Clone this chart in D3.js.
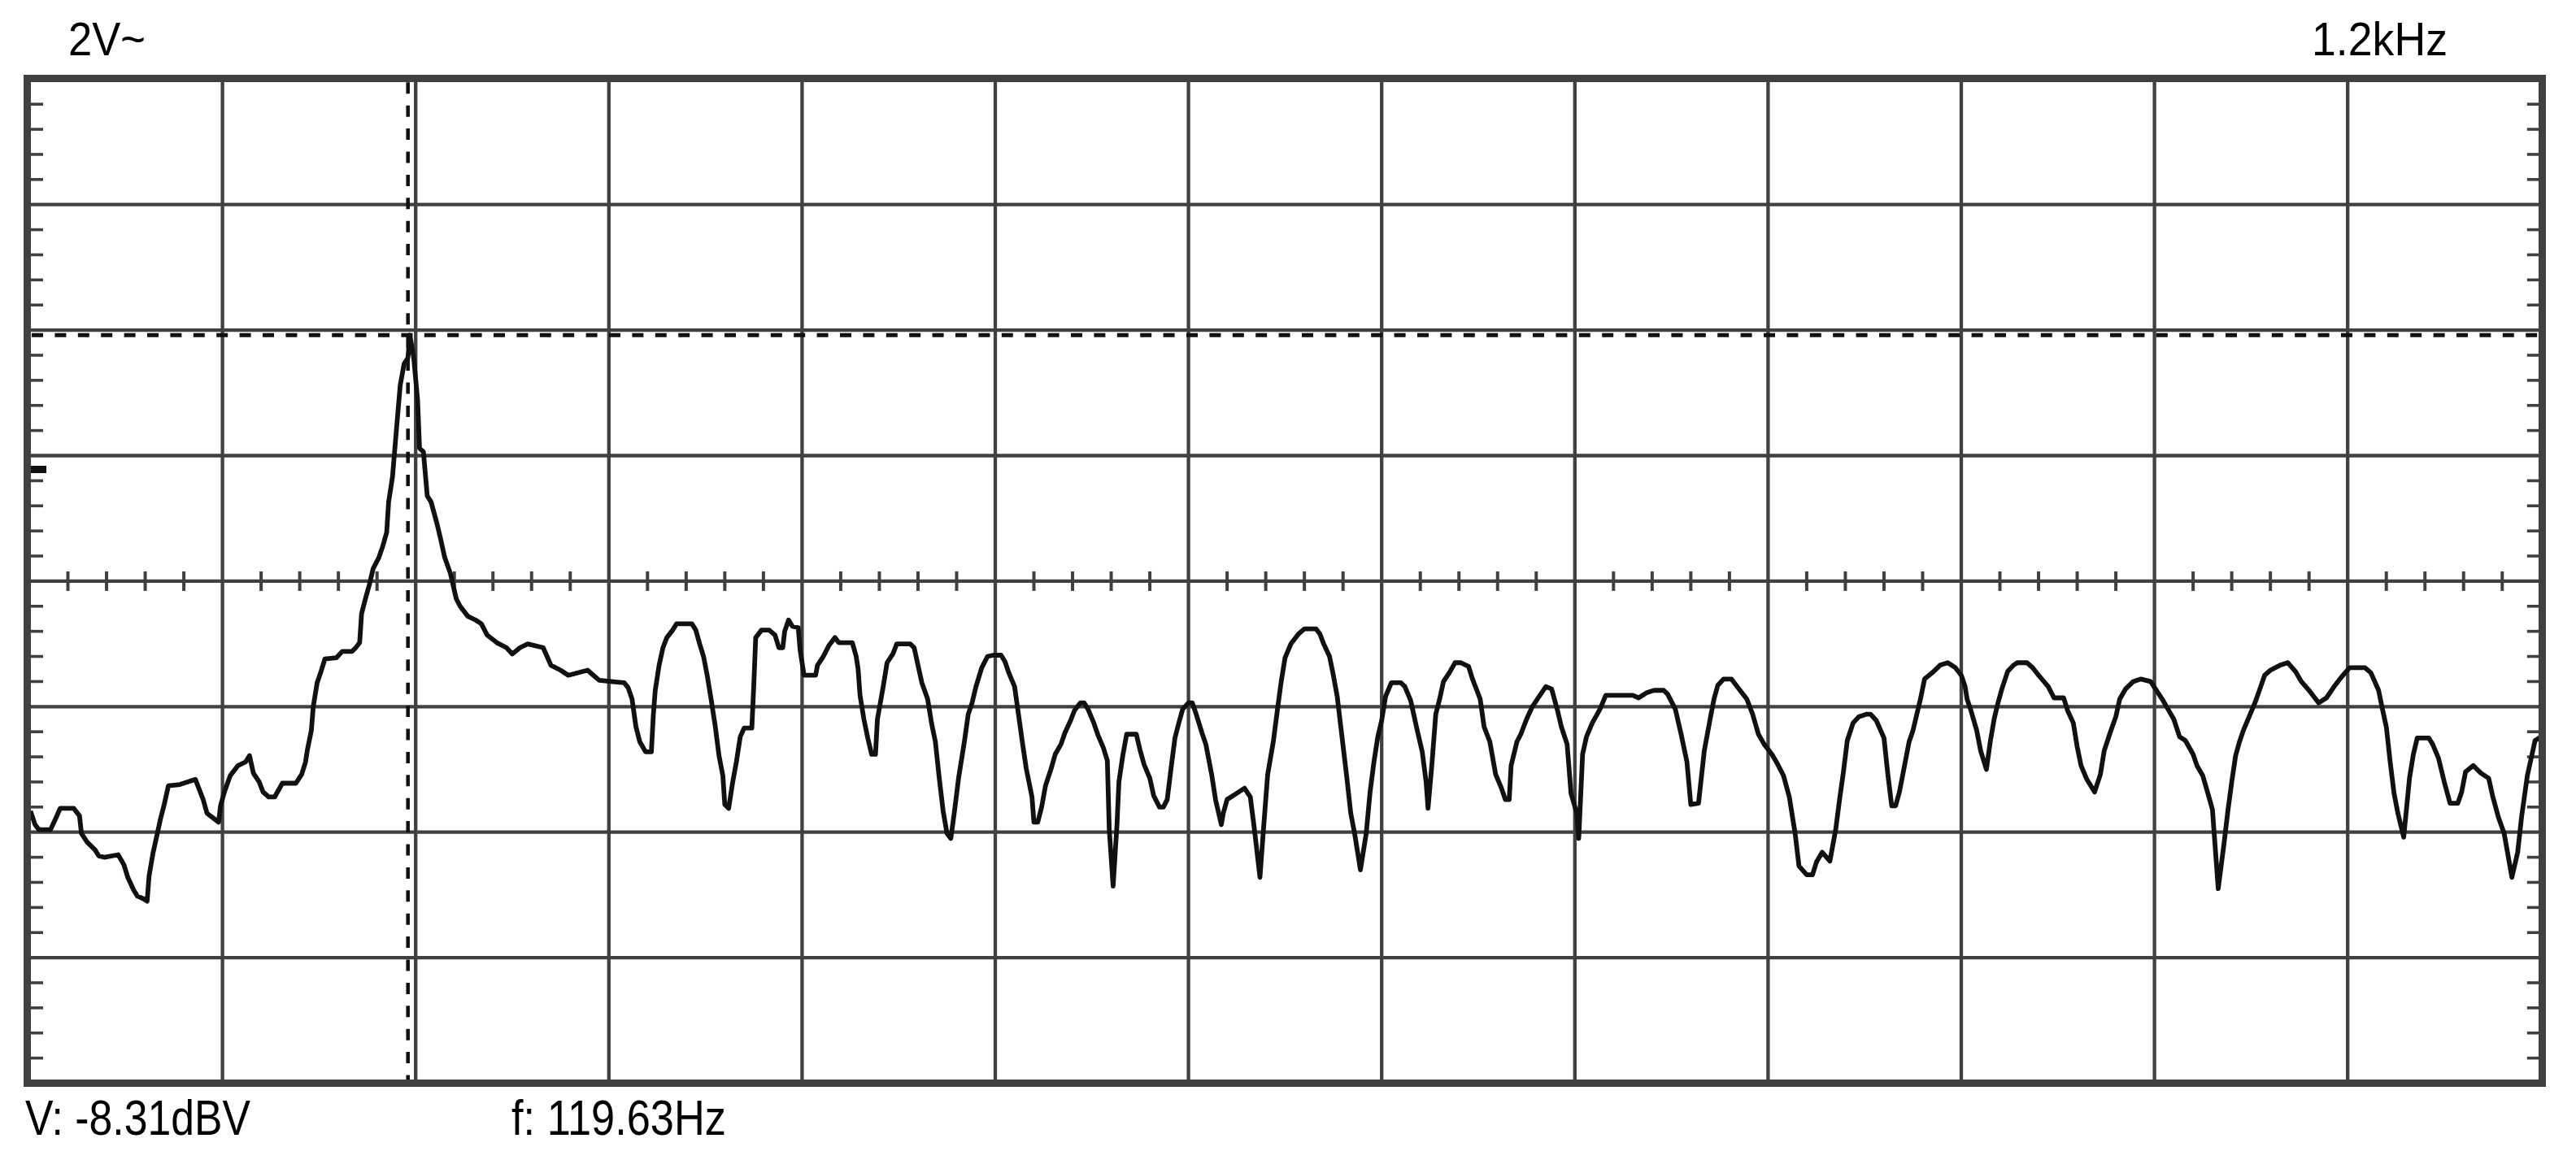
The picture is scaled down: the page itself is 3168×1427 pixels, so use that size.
<!DOCTYPE html>
<html><head><meta charset="utf-8">
<script src="https://cdn.jsdelivr.net/npm/d3@7"></script>
<style>html,body{margin:0;padding:0;background:#fff;} svg{display:block;}</style>
</head><body>
<svg id="chart" width="3168" height="1427"></svg>
<script>
// ---------- data (x: horizontal divisions 0..13, y: vertical divisions from centre line) ----------
const xDivisions = 13;
const yDivisions = 8;
const minorPerDiv = 5;

const traceFreqDiv = [
0.01,0.03,0.05,0.11,0.14,0.16,0.23,0.26,0.27,0.30,
0.34,0.36,0.39,0.46,0.49,0.51,0.54,0.56,0.59,0.61,
0.62,0.64,0.66,0.68,0.70,0.72,0.78,0.86,0.88,0.90,
0.92,0.98,0.99,1.01,1.04,1.08,1.12,1.14,1.16,1.19,
1.21,1.24,1.27,1.31,1.38,1.41,1.43,1.44,1.46,1.47,
1.49,1.51,1.53,1.59,1.62,1.67,1.69,1.71,1.72,1.74,
1.76,1.78,1.81,1.83,1.85,1.86,1.88,1.90,1.92,1.94,
1.96,1.97,1.99,2.01,2.02,2.04,2.06,2.08,2.11,2.13,
2.15,2.18,2.21,2.23,2.27,2.31,2.34,2.37,2.42,2.47,
2.50,2.54,2.58,2.66,2.68,2.70,2.75,2.79,2.89,2.92,
2.95,3.08,3.10,3.12,3.14,3.16,3.19,3.22,3.23,3.24,
3.26,3.28,3.30,3.33,3.35,3.43,3.45,3.47,3.49,3.51,
3.53,3.55,3.57,3.59,3.60,3.62,3.64,3.66,3.68,3.70,
3.74,3.75,3.76,3.79,3.83,3.86,3.88,3.90,3.91,3.93,
3.95,3.98,3.99,4.01,4.07,4.08,4.11,4.14,4.17,4.19,
4.26,4.28,4.29,4.30,4.32,4.34,4.36,4.38,4.39,4.42,
4.44,4.47,4.49,4.56,4.58,4.60,4.62,4.65,4.67,4.69,
4.71,4.73,4.75,4.77,4.79,4.81,4.84,4.86,4.88,4.90,
4.93,4.96,4.99,5.03,5.05,5.07,5.10,5.12,5.14,5.16,
5.19,5.20,5.22,5.24,5.26,5.29,5.31,5.34,5.36,5.39,
5.41,5.44,5.46,5.48,5.51,5.53,5.56,5.58,5.59,5.61,
5.63,5.64,5.66,5.68,5.73,5.75,5.77,5.80,5.82,5.85,
5.87,5.89,5.91,5.93,5.95,5.97,6.00,6.02,6.04,6.07,
6.09,6.12,6.14,6.17,6.18,6.20,6.25,6.29,6.32,6.34,
6.37,6.39,6.41,6.44,6.46,6.48,6.50,6.53,6.57,6.60,
6.66,6.68,6.70,6.73,6.75,6.77,6.79,6.82,6.84,6.86,
6.89,6.92,6.94,6.96,6.98,7.00,7.02,7.05,7.10,7.12,
7.15,7.18,7.21,7.23,7.24,7.26,7.28,7.30,7.32,7.35,
7.38,7.41,7.45,7.47,7.51,7.53,7.56,7.59,7.62,7.64,
7.66,7.67,7.70,7.72,7.75,7.78,7.81,7.85,7.88,7.91,
7.93,7.96,7.98,8.01,8.02,8.04,8.06,8.09,8.13,8.16,
8.30,8.33,8.37,8.41,8.46,8.48,8.52,8.55,8.58,8.60,
8.64,8.67,8.70,8.72,8.74,8.77,8.81,8.85,8.89,8.92,
8.95,8.98,9.02,9.05,9.08,9.11,9.14,9.16,9.20,9.23,
9.25,9.28,9.32,9.35,9.37,9.39,9.41,9.44,9.47,9.51,
9.53,9.56,9.60,9.62,9.64,9.66,9.68,9.71,9.73,9.75,
9.77,9.79,9.81,9.85,9.89,9.93,9.97,10.00,10.02,10.03,
10.05,10.08,10.10,10.13,10.15,10.17,10.19,10.21,10.24,10.27,
10.29,10.34,10.37,10.40,10.45,10.48,10.53,10.55,10.58,10.60,
10.62,10.65,10.69,10.72,10.74,10.77,10.80,10.82,10.85,10.89,
10.93,10.98,11.04,11.07,11.10,11.13,11.16,11.20,11.22,11.25,
11.28,11.30,11.32,11.33,11.36,11.38,11.40,11.42,11.44,11.46,
11.49,11.52,11.55,11.57,11.60,11.65,11.69,11.73,11.76,11.80,
11.85,11.89,11.93,11.97,12.01,12.09,12.12,12.14,12.16,12.18,
12.20,12.22,12.24,12.26,12.29,12.32,12.34,12.36,12.42,12.44,
12.47,12.50,12.53,12.57,12.59,12.61,12.65,12.69,12.73,12.75,
12.78,12.81,12.85,12.88,12.90,12.93,12.95,12.97,12.99
];

const traceLevelDiv = [
-1.85,-1.94,-1.98,-1.98,-1.88,-1.81,-1.81,-1.87,-2.01,-2.08,
-2.14,-2.19,-2.20,-2.18,-2.26,-2.36,-2.46,-2.51,-2.53,-2.55,
-2.35,-2.17,-2.03,-1.89,-1.77,-1.63,-1.62,-1.58,-1.66,-1.74,
-1.85,-1.92,-1.79,-1.68,-1.55,-1.47,-1.44,-1.39,-1.53,-1.60,
-1.68,-1.72,-1.72,-1.61,-1.61,-1.54,-1.44,-1.34,-1.19,-1.00,
-0.81,-0.72,-0.62,-0.61,-0.56,-0.56,-0.53,-0.49,-0.26,-0.14,
-0.03,0.10,0.19,0.28,0.39,0.63,0.83,1.20,1.56,1.73,
1.78,1.96,1.78,1.44,1.06,1.03,0.68,0.63,0.46,0.33,
0.19,0.06,-0.14,-0.20,-0.28,-0.31,-0.34,-0.43,-0.49,-0.53,
-0.58,-0.53,-0.50,-0.53,-0.60,-0.67,-0.71,-0.75,-0.71,-0.75,
-0.79,-0.81,-0.85,-0.94,-1.16,-1.28,-1.36,-1.36,-1.07,-0.87,
-0.67,-0.53,-0.45,-0.39,-0.34,-0.34,-0.39,-0.50,-0.60,-0.76,
-0.95,-1.15,-1.39,-1.55,-1.78,-1.81,-1.61,-1.44,-1.24,-1.17,
-1.17,-0.83,-0.45,-0.39,-0.39,-0.43,-0.53,-0.53,-0.40,-0.31,
-0.36,-0.37,-0.55,-0.75,-0.75,-0.67,-0.60,-0.51,-0.45,-0.49,
-0.49,-0.60,-0.70,-0.91,-1.10,-1.25,-1.38,-1.38,-1.10,-0.84,
-0.65,-0.58,-0.50,-0.50,-0.53,-0.67,-0.81,-0.94,-1.13,-1.28,
-1.57,-1.83,-2.01,-2.05,-1.82,-1.57,-1.28,-1.06,-0.97,-0.84,
-0.69,-0.60,-0.59,-0.59,-0.64,-0.73,-0.84,-1.06,-1.28,-1.49,
-1.72,-1.92,-1.92,-1.80,-1.63,-1.49,-1.38,-1.30,-1.21,-1.11,
-1.03,-0.97,-0.97,-1.02,-1.13,-1.22,-1.33,-1.43,-1.98,-2.43,
-1.94,-1.60,-1.39,-1.22,-1.22,-1.35,-1.46,-1.57,-1.71,-1.80,
-1.80,-1.74,-1.49,-1.25,-1.13,-1.02,-0.97,-0.97,-1.06,-1.21,
-1.30,-1.54,-1.74,-1.94,-1.85,-1.74,-1.69,-1.65,-1.72,-1.96,
-2.36,-1.94,-1.54,-1.27,-1.03,-0.80,-0.61,-0.50,-0.42,-0.38,
-0.38,-0.42,-0.50,-0.60,-0.75,-0.92,-1.18,-1.57,-1.85,-2.01,
-2.30,-2.01,-1.68,-1.44,-1.24,-1.11,-0.92,-0.81,-0.81,-0.84,
-0.95,-1.16,-1.36,-1.60,-1.81,-1.46,-1.06,-0.94,-0.80,-0.73,
-0.65,-0.65,-0.68,-0.78,-0.94,-1.16,-1.28,-1.54,-1.65,-1.74,
-1.74,-1.47,-1.28,-1.22,-1.10,-1.00,-0.93,-0.84,-0.86,-1.03,
-1.16,-1.30,-1.69,-1.85,-2.05,-1.38,-1.24,-1.13,-1.02,-0.91,
-0.91,-0.93,-0.89,-0.87,-0.87,-0.90,-1.02,-1.22,-1.44,-1.78,
-1.77,-1.35,-1.10,-0.94,-0.83,-0.78,-0.78,-0.86,-0.94,-1.06,
-1.22,-1.30,-1.38,-1.46,-1.55,-1.72,-2.01,-2.27,-2.34,-2.34,
-2.24,-2.16,-2.23,-1.98,-1.74,-1.52,-1.27,-1.13,-1.08,-1.06,
-1.06,-1.11,-1.25,-1.54,-1.79,-1.79,-1.68,-1.44,-1.28,-1.19,
-1.06,-0.93,-0.78,-0.73,-0.67,-0.65,-0.69,-0.75,-0.84,-0.94,
-1.03,-1.19,-1.35,-1.50,-1.28,-1.10,-0.97,-0.86,-0.72,-0.67,
-0.65,-0.65,-0.69,-0.75,-0.84,-0.93,-0.93,-1.03,-1.13,-1.32,
-1.47,-1.58,-1.68,-1.54,-1.35,-1.21,-1.08,-0.94,-0.86,-0.80,
-0.78,-0.80,-0.94,-1.02,-1.10,-1.24,-1.27,-1.38,-1.47,-1.55,
-1.71,-1.82,-2.24,-2.45,-2.09,-1.83,-1.60,-1.39,-1.28,-1.19,
-1.08,-0.97,-0.84,-0.75,-0.71,-0.67,-0.65,-0.72,-0.80,-0.87,
-0.97,-0.93,-0.84,-0.76,-0.69,-0.69,-0.73,-0.80,-0.87,-1.02,
-1.16,-1.44,-1.69,-1.85,-2.04,-1.57,-1.38,-1.25,-1.25,-1.30,
-1.41,-1.60,-1.77,-1.77,-1.68,-1.52,-1.47,-1.53,-1.57,-1.71,
-1.88,-2.01,-2.36,-2.16,-1.88,-1.55,-1.41,-1.27,-1.25
];

const cursorFreqDiv = 1.96;      // vertical dashed cursor
const cursorLevelDiv = 1.96;     // horizontal dashed cursor
const refMarkerLevelDiv = 0.89;  // small marker on the left edge

const topLeftLabel = "2V~";
const topRightLabel = "1.2kHz";
const readoutLabels = ["V: -8.31dBV", "f: 119.63Hz"];

// ---------- drawing ----------
const svg = d3.select("#chart");
const gridColor = "#404040", inkColor = "#111111";
const font = "'Liberation Sans', Arial, 'DejaVu Sans', sans-serif";

const x = d3.scaleLinear().domain([0, xDivisions]).range([36, 3124.8]);
const y = d3.scaleLinear().domain([-yDivisions / 2, yDivisions / 2]).range([1332.5, 97.3]);

const grid = svg.append("g");
grid.selectAll(".vmaj").data(d3.range(1, xDivisions)).join("line").attr("class", "vmaj")
  .attr("x1", d => x(d)).attr("x2", d => x(d))
  .attr("y1", y(yDivisions / 2)).attr("y2", y(-yDivisions / 2))
  .attr("stroke", gridColor).attr("stroke-width", 4.3);
grid.selectAll(".hmaj").data(d3.range(-yDivisions / 2 + 1, yDivisions / 2)).join("line").attr("class", "hmaj")
  .attr("x1", x(0)).attr("x2", x(xDivisions))
  .attr("y1", d => y(d)).attr("y2", d => y(d))
  .attr("stroke", gridColor).attr("stroke-width", 4.3);
const xMinor = d3.range(1, xDivisions * minorPerDiv).filter(i => i % minorPerDiv !== 0).map(i => i / minorPerDiv);
grid.selectAll(".xmin").data(xMinor).join("line").attr("class", "xmin")
  .attr("x1", d => x(d)).attr("x2", d => x(d))
  .attr("y1", y(0) - 12).attr("y2", y(0) + 12)
  .attr("stroke", gridColor).attr("stroke-width", 4);
const yMinor = d3.range(1, yDivisions * minorPerDiv).filter(i => i % minorPerDiv !== 0).map(i => i / minorPerDiv - yDivisions / 2);
grid.selectAll(".ylmin").data(yMinor).join("line").attr("class", "ylmin")
  .attr("x1", x(0)).attr("x2", x(0) + 17)
  .attr("y1", d => y(d)).attr("y2", d => y(d))
  .attr("stroke", gridColor).attr("stroke-width", 3.6);
grid.selectAll(".yrmin").data(yMinor).join("line").attr("class", "yrmin")
  .attr("x1", x(xDivisions) - 17).attr("x2", x(xDivisions))
  .attr("y1", d => y(d)).attr("y2", d => y(d))
  .attr("stroke", gridColor).attr("stroke-width", 3.6);

// cursors
svg.append("line")
  .attr("x1", x(0) + 3).attr("x2", x(xDivisions) - 3)
  .attr("y1", y(cursorLevelDiv)).attr("y2", y(cursorLevelDiv))
  .attr("stroke", inkColor).attr("stroke-width", 5).attr("stroke-dasharray", "14 14.4");
svg.append("line")
  .attr("x1", x(cursorFreqDiv)).attr("x2", x(cursorFreqDiv))
  .attr("y1", y(yDivisions / 2) + 4).attr("y2", y(-yDivisions / 2) - 4)
  .attr("stroke", inkColor).attr("stroke-width", 4.5).attr("stroke-dasharray", "14 14.4");

// trace
const pts = traceFreqDiv.map((f, i) => [f, traceLevelDiv[i]]);
const line = d3.line().x(d => x(d[0])).y(d => y(d[1]));
svg.append("path").datum(pts)
  .attr("d", line).attr("fill", "none")
  .attr("stroke", inkColor).attr("stroke-width", 5.8)
  .attr("stroke-linejoin", "round").attr("stroke-linecap", "square");

// frame
svg.append("rect")
  .attr("x", x(0) - 2.5).attr("y", y(yDivisions / 2) - 0.8)
  .attr("width", x(xDivisions) + 1.7 - (x(0) - 2.5))
  .attr("height", y(-yDivisions / 2) - (y(yDivisions / 2) - 0.8))
  .attr("fill", "none").attr("stroke", gridColor).attr("stroke-width", 9);

// reference marker on left edge
svg.append("rect")
  .attr("x", x(0) + 2).attr("y", y(refMarkerLevelDiv) - 4.5)
  .attr("width", 19).attr("height", 9).attr("fill", inkColor);

// labels
function label(txt, px, py, size, len) {
  svg.append("text").text(txt)
    .attr("x", px).attr("y", py)
    .attr("font-family", font).attr("font-size", size)
    .attr("textLength", len).attr("lengthAdjust", "spacingAndGlyphs")
    .attr("fill", "#000");
}
label(topLeftLabel, 84, 68, 57, 95);
label(topRightLabel, 2843, 68, 57, 167);
label(readoutLabels[0], 31, 1396, 61, 277);
label(readoutLabels[1], 629, 1396, 61, 264);
</script>
</body></html>
